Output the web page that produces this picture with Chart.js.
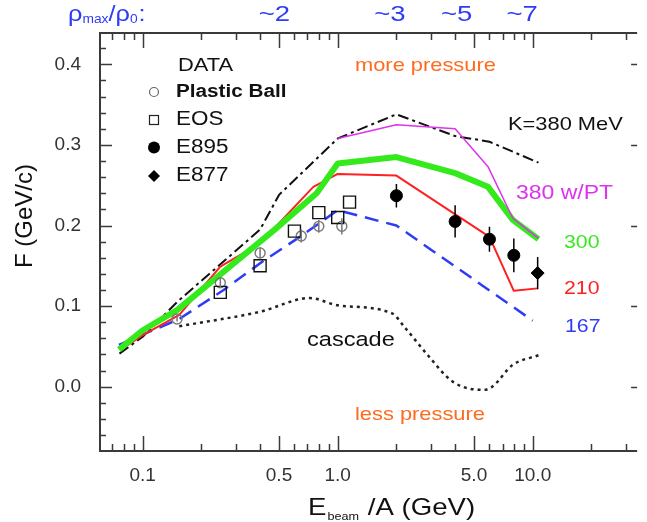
<!DOCTYPE html>
<html>
<head>
<meta charset="utf-8">
<script src="https://cdn.jsdelivr.net/npm/chart.js@4.4.1/dist/chart.umd.min.js"></script>
<style>
  html, body { margin: 0; padding: 0; background: #fff; }
  #wrap { width: 647px; height: 522px; }
</style>
</head>
<body>
<div id="wrap"><canvas id="chart" width="647" height="522"></canvas></div>
<script>
// Beam energy per nucleon (GeV) and sideward flow F (GeV/c)
const plasticBallE = [0.15, 0.25, 0.4, 0.65, 0.8, 1.05];
const plasticBallF = [0.084, 0.129, 0.166, 0.187, 0.199, 0.199];
const plasticBallErr = [0.003, 0.006, 0.007, 0.008, 0.008, 0.010];

const eosE = [0.25, 0.4, 0.6, 0.8, 1.0, 1.15];
const eosF = [0.117, 0.150, 0.193, 0.216, 0.210, 0.229];

const e895E = [2.0, 4.0, 6.0, 8.0];
const e895F = [0.237, 0.205, 0.183, 0.163];
const e895Err = [0.0145, 0.020, 0.0155, 0.021];

const e877E = [10.6];
const e877F = [0.141];
const e877Err = [0.020];

// Transport model curves
const k380E = [0.076, 0.1, 0.15, 0.4, 0.5, 1.0, 2.0, 4.0, 6.0, 10.7];
const k380F = [0.041, 0.062, 0.105, 0.195, 0.238, 0.308, 0.338, 0.311, 0.304, 0.278];

const ptE = [1.0, 2.0, 4.0, 5.9, 7.9, 10.7];
const ptF = [0.308, 0.325, 0.320, 0.273, 0.209, 0.184];

const k300E = [0.0755, 0.1, 0.15, 0.47, 0.78, 1.0, 2.0, 4.0, 5.9, 7.9, 10.7];
const k300F = [0.046, 0.070, 0.095, 0.194, 0.240, 0.277, 0.285, 0.265, 0.248, 0.207, 0.183];

const k210E = [0.077, 0.1, 0.154, 0.25, 0.4, 0.75, 1.0, 2.0, 6.0, 8.0, 10.6];
const k210F = [0.0455, 0.064, 0.089, 0.149, 0.178, 0.248, 0.264, 0.262, 0.186, 0.119, 0.122];

const k167E = [0.0755, 0.154, 0.26, 0.41, 0.65, 1.0, 2.0, 10.0];
const k167F = [0.052, 0.084, 0.120, 0.155, 0.187, 0.219, 0.200, 0.082];

const cascadeE = [0.154, 0.4, 0.72, 1.0, 1.9, 2.2, 2.9, 3.9, 5.6, 6.2, 7.9, 10.7];
const cascadeF = [0.075, 0.093, 0.110, 0.101, 0.091, 0.074, 0.039, 0.006, -0.004, 0.0, 0.027, 0.039];

// Axis ticks
const xMajor = [0.1, 0.5, 1, 5, 10];
const xLabels = ['0.1', '0.5', '1.0', '5.0', '10.0'];
const xMinor = [0.07, 0.08, 0.09, 0.2, 0.3, 0.4, 0.6, 0.7, 0.8, 0.9, 2, 3, 4, 6, 7, 8, 9, 20, 30];
const yMajor = [0.0, 0.1, 0.2, 0.3, 0.4];
const yMinor = [-0.06, -0.04, -0.02, 0.02, 0.04, 0.06, 0.08, 0.12, 0.14, 0.16, 0.18,
                0.22, 0.24, 0.26, 0.28, 0.32, 0.34, 0.36, 0.38, 0.42];

// Maximum density reached, marked along the top axis
const densityE = [0.473, 1.85, 4.07, 8.83];
const densityLabels = ['~2', '~3', '~5', '~7'];

const FONT = "'Liberation Sans', Arial, sans-serif";
const SX = 1.15;
const BLUE = '#2e3cf5';
const ORANGE = '#ff6a1c';
const MAGENTA = '#dd33ee';
const GREEN = '#35ea1c';
const RED = '#ff2020';

const pts = (xs, ys) => xs.map((v, i) => ({ x: v, y: ys[i] }));

// text slightly widened, as in the original plot
function text(ctx, str, x, y, size, color, opts = {}) {
  ctx.save();
  ctx.font = (opts.bold ? 'bold ' : '') + size + 'px ' + FONT;
  ctx.fillStyle = color;
  ctx.textBaseline = opts.baseline || 'middle';
  ctx.textAlign = 'left';
  const sx = opts.sx || SX;
  const w = ctx.measureText(str).width * sx;
  let x0 = x;
  if (opts.align === 'center') x0 = x - w / 2;
  if (opts.align === 'right') x0 = x - w;
  ctx.translate(x0, y);
  ctx.scale(sx, 1);
  ctx.fillText(str, 0, 0);
  ctx.restore();
  return x0 + w;
}

const errorSets = [
  { xs: plasticBallE, ys: plasticBallF, err: plasticBallErr, color: '#777' },
  { xs: e895E, ys: e895F, err: e895Err, color: '#000' },
  { xs: e877E, ys: e877F, err: e877Err, color: '#000' }
];

const frame = {
  id: 'frame',
  beforeDatasetsDraw(chart) {
    const { ctx, chartArea: a, scales: { x, y } } = chart;
    ctx.save();
    ctx.strokeStyle = '#3a3a3a';
    ctx.lineWidth = 2;
    ctx.beginPath();
    ctx.moveTo(a.right, a.top); ctx.lineTo(a.left, a.top);
    ctx.lineTo(a.left, a.bottom); ctx.lineTo(a.right, a.bottom);
    ctx.stroke();

    ctx.lineWidth = 1.5;
    ctx.beginPath();
    const tickX = (v, len) => {
      const px = Math.round(x.getPixelForValue(v)) + 0.5;
      ctx.moveTo(px, a.bottom); ctx.lineTo(px, a.bottom - len);
      ctx.moveTo(px, a.top); ctx.lineTo(px, a.top + len);
    };
    xMajor.forEach(v => tickX(v, 15));
    xMinor.forEach(v => tickX(v, 7));
    yMajor.forEach(v => {
      const py = Math.round(y.getPixelForValue(v)) + 0.5;
      ctx.moveTo(a.left, py); ctx.lineTo(a.left + 12, py);
      ctx.moveTo(a.right, py); ctx.lineTo(a.right - 6, py);
    });
    yMinor.forEach(v => {
      const py = Math.round(y.getPixelForValue(v)) + 0.5;
      ctx.moveTo(a.left, py); ctx.lineTo(a.left + 6, py);
    });
    ctx.stroke();
    ctx.restore();
  },
  afterDatasetsDraw(chart) {
    const { ctx, scales: { x, y } } = chart;
    ctx.save();
    ctx.lineWidth = 1.5;
    errorSets.forEach(s => {
      ctx.strokeStyle = s.color;
      ctx.beginPath();
      s.xs.forEach((e, i) => {
        const px = x.getPixelForValue(e);
        ctx.moveTo(px, y.getPixelForValue(s.ys[i] - s.err[i]));
        ctx.lineTo(px, y.getPixelForValue(s.ys[i] + s.err[i]));
      });
      ctx.stroke();
    });
    ctx.restore();
  },
  afterDraw(chart) {
    const { ctx, scales: { x } } = chart;

    // density scale along the top
    let cx = text(ctx, 'ρ', 68, 15, 22, BLUE);
    cx = text(ctx, 'max', cx, 20, 12, BLUE);
    cx = text(ctx, '/ρ', cx, 15, 22, BLUE);
    cx = text(ctx, '0', cx, 20, 12, BLUE);
    text(ctx, ':', cx + 1, 15, 22, BLUE);
    densityE.forEach((e, i) => text(ctx, densityLabels[i], x.getPixelForValue(e), 15, 22, BLUE, { align: 'center', sx: 1.25 }));

    // legend for the data sets
    text(ctx, 'DATA', 178, 66, 19, '#111');
    const rows = [
      { label: 'Plastic Ball', y: 92, bold: true, size: 18 },
      { label: 'EOS', y: 120 },
      { label: 'E895', y: 147.5 },
      { label: 'E877', y: 176 }
    ];
    rows.forEach(r => text(ctx, r.label, 176, r.y, r.size || 19.5, '#111', { bold: r.bold }));
    ctx.save();
    ctx.lineWidth = 1.2;
    ctx.strokeStyle = '#666';
    ctx.beginPath(); ctx.arc(154, 92, 4.5, 0, Math.PI * 2); ctx.stroke();
    ctx.strokeStyle = '#222';
    ctx.strokeRect(149.5, 115.5, 9, 9);
    ctx.fillStyle = '#000';
    ctx.beginPath(); ctx.arc(154, 147.5, 6, 0, Math.PI * 2); ctx.fill();
    ctx.beginPath();
    ctx.moveTo(154, 170); ctx.lineTo(160, 176); ctx.lineTo(154, 182); ctx.lineTo(148, 176);
    ctx.closePath(); ctx.fill();
    ctx.restore();

    // curve labels and notes
    text(ctx, 'more pressure', 355, 66, 19, ORANGE);
    text(ctx, 'less pressure', 355, 415, 19, ORANGE);
    text(ctx, 'K=380 MeV', 508, 125, 19, '#111');
    text(ctx, '380 w/PT', 516, 193, 20, MAGENTA);
    text(ctx, '300', 564, 243, 18.5, GREEN);
    text(ctx, '210', 564, 288.5, 18.5, RED);
    text(ctx, '167', 565, 327, 18.5, BLUE);
    text(ctx, 'cascade', 307, 340, 20.5, '#111');

    // axis titles
    let tx = text(ctx, 'E', 308, 515, 24, '#111', { baseline: 'alphabetic' });
    tx = text(ctx, 'beam', tx + 1, 520, 11, '#111', { baseline: 'alphabetic' });
    text(ctx, ' /A (GeV)', tx + 1, 515, 24, '#111', { baseline: 'alphabetic' });

    ctx.save();
    ctx.translate(25, 216);
    ctx.rotate(-Math.PI / 2);
    ctx.font = '24px ' + FONT;
    ctx.fillStyle = '#111';
    ctx.textAlign = 'center';
    ctx.textBaseline = 'middle';
    ctx.fillText('F (GeV/c)', 0, 0);
    ctx.restore();
  }
};

const lineStyle = (color, width, dash) => ({
  showLine: true, pointRadius: 0, borderColor: color, borderWidth: width,
  borderDash: dash || [], fill: false, borderJoinStyle: 'round'
});

new Chart(document.getElementById('chart'), {
  type: 'scatter',
  data: {
    datasets: [
      { label: 'E877', data: pts(e877E, e877F), pointStyle: 'rectRot', pointRadius: 6.5,
        backgroundColor: '#000', borderColor: '#000', borderWidth: 1 },
      { label: 'E895', data: pts(e895E, e895F), pointStyle: 'circle', pointRadius: 6,
        backgroundColor: '#000', borderColor: '#000', borderWidth: 1 },
      { label: 'EOS', data: pts(eosE, eosF), pointStyle: 'rect', pointRadius: 8.5,
        backgroundColor: 'rgba(0,0,0,0)', borderColor: '#111', borderWidth: 1.4 },
      { label: 'Plastic Ball', data: pts(plasticBallE, plasticBallF), pointStyle: 'circle', pointRadius: 5,
        backgroundColor: 'rgba(0,0,0,0)', borderColor: '#777', borderWidth: 1.4 },
      { label: '380 w/PT', data: pts(ptE, ptF), ...lineStyle(MAGENTA, 1.5) },
      { label: '300', data: pts(k300E, k300F), ...lineStyle(GREEN, 6) },
      { label: '210', data: pts(k210E, k210F), ...lineStyle(RED, 2) },
      { label: '167', data: pts(k167E, k167F), ...lineStyle(BLUE, 2.5, [14, 8]) },
      { label: 'K=380 MeV', data: pts(k380E, k380F), ...lineStyle('#111', 2, [11, 4, 3, 4]) },
      { label: 'cascade', data: pts(cascadeE, cascadeF), ...lineStyle('#222', 2.5, [3, 4]),
        cubicInterpolationMode: 'monotone' }
    ]
  },
  options: {
    responsive: false,
    animation: false,
    layout: { padding: { top: 33, right: 0, left: 0, bottom: 0 } },
    plugins: { legend: { display: false }, tooltip: { enabled: false } },
    scales: {
      x: {
        type: 'logarithmic',
        min: 0.0604, max: 34.3,
        grid: { display: false, drawTicks: false },
        border: { display: false },
        afterBuildTicks: s => { s.ticks = xMajor.map(v => ({ value: v })); },
        afterFit: s => { s.height = 71; },
        ticks: {
          autoSkip: false, maxRotation: 0, padding: 13, color: '#333',
          font: { family: FONT, size: 19 },
          callback: (v, i) => xLabels[i]
        }
      },
      y: {
        min: -0.0798, max: 0.4389,
        grid: { display: false, drawTicks: false },
        border: { display: false },
        afterBuildTicks: s => { s.ticks = yMajor.map(v => ({ value: v })); },
        afterFit: s => { s.width = 100; },
        ticks: {
          padding: 19, color: '#333',
          font: { family: FONT, size: 19 },
          callback: v => v.toFixed(1)
        }
      }
    }
  },
  plugins: [frame]
});
</script>
</body>
</html>
